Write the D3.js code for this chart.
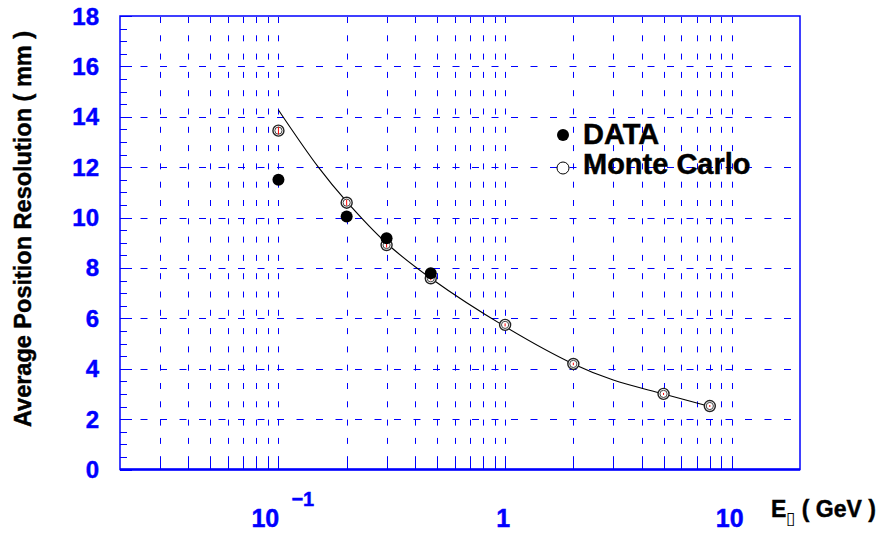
<!DOCTYPE html>
<html>
<head>
<meta charset="utf-8">
<script src="https://cdn.jsdelivr.net/npm/d3@7"></script>
<style>
  body { margin: 0; background: #fff; }
  text { font-family: "Liberation Sans", Arial, Helvetica, sans-serif; font-weight: bold; stroke-width: 0.45px; }
</style>
</head>
<body>
<script>

// energies (GeV) of the measured / simulated points
const energy = [0.1, 0.2, 0.3, 0.47, 1, 2, 5, 8];
const mcRes = [13.45, 10.59, 8.91, 7.59, 5.74, 4.19, 3.0, 2.52];
const mcErr = [0.15, 0.12, 0.1, 0.08, 0.06, 0.05, 0.04, 0.04];

const dataEnergy = [0.1, 0.2, 0.3, 0.47];
const dataRes = [11.5, 10.04, 9.18, 7.79];

// fitted curve
const fitEnergy = [0.1, 0.15, 0.2, 0.3, 0.47, 1, 2, 3, 5, 8];
const fitRes = [14.27, 12.0, 10.63, 8.98, 7.59, 5.67, 4.19, 3.55, 3.0, 2.5];

const yTicks = [0, 2, 4, 6, 8, 10, 12, 14, 16, 18];
const xMajor = [0.1, 1, 10];
const legendNames = ['DATA', 'Monte Carlo'];

const blue = '#0000ff';
const W = 883, H = 535;
const margin = {top: 16, right: 83, bottom: 65.5, left: 120};
const w = W - margin.left - margin.right;
const h = H - margin.top - margin.bottom;

const svg = d3.select('body')
  .append('svg')
  .attr('width', W)
  .attr('height', H)
  .append('g')
  .attr('transform', `translate(${margin.left},${margin.top})`);

const x = d3.scaleLog()
  .domain([0.02, 20])
  .range([0, w]);

const y = d3.scaleLinear()
  .domain([0, 18])
  .range([h, 0]);

// minor positions on the log axis
let xMinor = [];
[0.01, 0.1, 1, 10].forEach(function(dec) {
  for (let k = 1; k < 10; k++) {
    let v = dec * k;
    if (v > 0.021 && v < 19.9) xMinor.push(v);
  }
});
const yMinor = d3.range(0, 18.01, 0.5);

// vertical grid (dashed)
svg.append('g')
  .selectAll('line')
  .data(xMinor.filter(d => d <= 10.01))
  .enter()
  .append('line')
  .attr('x1', d => Math.round(x(d)) + 0.5)
  .attr('x2', d => Math.round(x(d)) + 0.5)
  .attr('y1', 0)
  .attr('y2', h)
  .attr('stroke', blue)
  .attr('stroke-width', 1)
  .attr('stroke-dasharray', '6,12.3')
  .attr('stroke-dashoffset', -1);

// horizontal grid (dashed)
svg.append('g')
  .selectAll('line')
  .data(yTicks.slice(1, -1))
  .enter()
  .append('line')
  .attr('x1', 0)
  .attr('x2', w)
  .attr('y1', d => Math.round(y(d)) + 0.5)
  .attr('y2', d => Math.round(y(d)) + 0.5)
  .attr('stroke', blue)
  .attr('stroke-width', 1)
  .attr('stroke-dasharray', '7,12.5')
  .attr('stroke-dashoffset', -1);

// ticks on the left axis
svg.append('g')
  .selectAll('line')
  .data(yMinor)
  .enter()
  .append('line')
  .attr('x1', 0)
  .attr('x2', d => d % 2 === 0 ? 12 : 7)
  .attr('y1', d => Math.round(y(d)) + 0.5)
  .attr('y2', d => Math.round(y(d)) + 0.5)
  .attr('stroke', blue)
  .attr('stroke-width', 1);

// ticks on the bottom axis
svg.append('g')
  .selectAll('line')
  .data(xMinor)
  .enter()
  .append('line')
  .attr('x1', d => Math.round(x(d)) + 0.5)
  .attr('x2', d => Math.round(x(d)) + 0.5)
  .attr('y1', h)
  .attr('y2', d => xMajor.includes(d) ? h - 13 : h - 9)
  .attr('stroke', blue)
  .attr('stroke-width', 1);

// frame
svg.append('rect')
  .attr('x', 0)
  .attr('y', 0)
  .attr('width', w)
  .attr('height', h)
  .attr('fill', 'none')
  .attr('stroke', blue)
  .attr('stroke-width', 1.5);

svg.append('line')
  .attr('x1', 0).attr('x2', w)
  .attr('y1', h).attr('y2', h)
  .attr('stroke', blue)
  .attr('stroke-width', 2.5);

// y tick labels
svg.append('g')
  .selectAll('text')
  .data(yTicks)
  .enter()
  .append('text')
  .attr('x', -21)
  .attr('y', d => y(d) + 8.5)
  .attr('text-anchor', 'end')
  .attr('fill', blue)
  .attr('stroke', blue)
  .style('font-size', '24px')
  .text(d => d);

// x tick labels
const xl = svg.append('g')
  .attr('fill', blue)
  .attr('stroke', blue);
xl.append('text')
  .attr('x', x(0.1) - 27)
  .attr('y', h + 57.5)
  .style('font-size', '25px')
  .text('10');
xl.append('text')
  .attr('x', x(0.1) + 13)
  .attr('y', h + 36.5)
  .style('font-size', '20px')
  .text('\u22121');
xl.append('text')
  .attr('x', x(1) - 2)
  .attr('y', h + 57.5)
  .attr('text-anchor', 'middle')
  .style('font-size', '25px')
  .text('1');
xl.append('text')
  .attr('x', x(10) - 2)
  .attr('y', h + 57)
  .attr('text-anchor', 'middle')
  .style('font-size', '25px')
  .text('10');

// axis titles
const xt = svg.append('text')
  .attr('x', 651)
  .attr('y', h + 47)
  .attr('fill', '#000')
  .attr('stroke', '#000')
  .style('font-size', '23px');
xt.append('tspan').text('E');
xt.append('tspan')
  .attr('dy', 7)
  .attr('stroke', 'none')
  .style('font-size', '17px')
  .style('font-weight', 'normal')
  .text('\u25af');
xt.append('tspan')
  .attr('dy', -7)
  .text(' ( GeV )');

svg.append('text')
  .attr('transform', `translate(${31 - margin.left},${229 - margin.top}) rotate(-90)`)
  .attr('text-anchor', 'middle')
  .attr('fill', '#000')
  .attr('stroke', '#000')
  .style('font-size', '23.5px')
  .text('Average Position Resolution ( mm )');

// fitted curve
const line = d3.line()
  .x(d => x(d[0]))
  .y(d => y(d[1]))
  .curve(d3.curveCatmullRom);

svg.append('path')
  .datum(fitEnergy.map((e, i) => [e, fitRes[i]]))
  .attr('d', line)
  .attr('fill', 'none')
  .attr('stroke', '#000')
  .attr('stroke-width', 1.1);

// monte carlo points
const mc = svg.append('g')
  .selectAll('g')
  .data(energy.map((e, i) => ({e: e, v: mcRes[i], err: mcErr[i]})))
  .enter()
  .append('g');

mc.append('circle')
  .attr('cx', d => x(d.e))
  .attr('cy', d => y(d.v))
  .attr('r', 5.5)
  .attr('fill', '#fff')
  .attr('stroke', '#222')
  .attr('stroke-width', 1.4);
mc.append('circle')
  .attr('cx', d => x(d.e))
  .attr('cy', d => y(d.v))
  .attr('r', 3.6)
  .attr('fill', 'none')
  .attr('stroke', '#444')
  .attr('stroke-width', 1);
mc.append('line')
  .attr('x1', d => x(d.e))
  .attr('x2', d => x(d.e))
  .attr('y1', d => y(d.v - d.err))
  .attr('y2', d => y(d.v + d.err))
  .attr('stroke', 'red')
  .attr('stroke-width', 1);

// data points
svg.append('g')
  .selectAll('circle')
  .data(dataEnergy)
  .enter()
  .append('circle')
  .attr('cx', d => x(d))
  .attr('cy', (d, i) => y(dataRes[i]))
  .attr('r', 6)
  .attr('fill', '#000');

// legend
const lg = svg.append('g')
  .attr('transform', `translate(${563 - margin.left},${135 - margin.top})`);
lg.append('circle')
  .attr('cx', 0).attr('cy', 0)
  .attr('r', 6)
  .attr('fill', '#000');
lg.append('circle')
  .attr('cx', 0).attr('cy', 33)
  .attr('r', 6)
  .attr('fill', '#fff')
  .attr('stroke', '#000')
  .attr('stroke-width', 1);
lg.selectAll('text')
  .data(legendNames)
  .enter()
  .append('text')
  .attr('x', 20)
  .attr('y', (d, i) => 8.5 + i * 30)
  .attr('fill', '#000')
  .attr('stroke', '#000')
  .style('font-size', '29px')
  .text(d => d);

</script>
</body>
</html>
